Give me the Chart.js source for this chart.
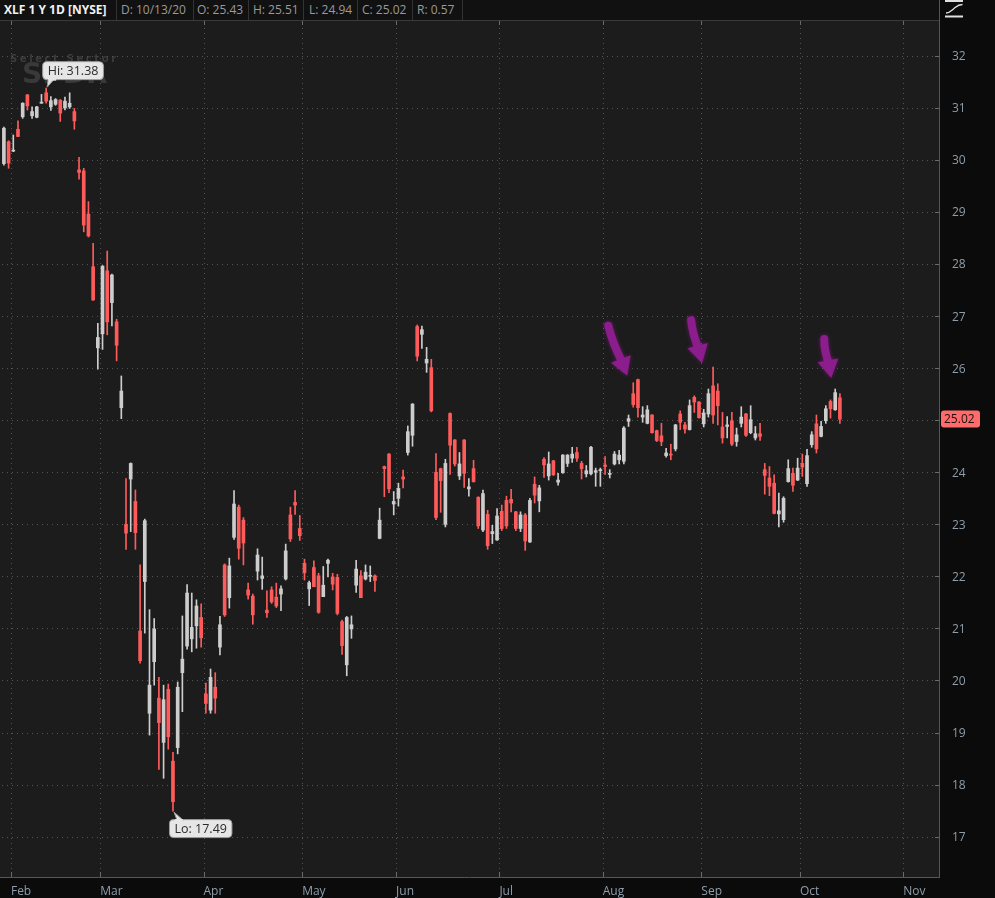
<!DOCTYPE html>
<html>
<head>
<meta charset="utf-8">
<script src="https://cdn.jsdelivr.net/npm/chart.js@4.4.0/dist/chart.umd.min.js"></script>
<style>
html,body{margin:0;padding:0;background:#0b0b0b;width:995px;height:898px;overflow:hidden;}
#wrap{position:relative;width:995px;height:898px;}
#c{position:absolute;left:0;top:0;}
#hdr{position:absolute;left:0;top:0;width:939px;height:20px;background:#111111;border-bottom:1px solid #3a3a3a;font-family:"Open Sans",sans-serif;font-size:12px;line-height:20px;color:#9a9a9a;}
#hdr span{position:absolute;top:0;white-space:nowrap;}
#hdr .t{color:#f2f2f2;font-weight:bold;font-size:12px;}
#hdr i{position:absolute;top:0;width:1px;height:20px;background:#333;}
#icon{position:absolute;left:944px;top:0;}
</style>
</head>
<body>
<div id="wrap">
<canvas id="c" width="995" height="898"></canvas>
<div id="hdr">
  <span class="t" style="left:4px">XLF 1 Y 1D [NYSE]</span>
  <i style="left:116px"></i><span id="hD" style="left:121px"></span>
  <i style="left:193px"></i><span id="hO" style="left:197px"></span>
  <i style="left:248px"></i><span id="hH" style="left:253px"></span>
  <i style="left:303px"></i><span id="hL" style="left:309px"></span>
  <i style="left:357px"></i><span id="hC" style="left:362px"></span>
  <i style="left:412px"></i><span id="hR" style="left:417px"></span>
  <i style="left:462px"></i>
</div>
<svg id="icon" width="22" height="19" viewBox="0 0 22 19">
  <rect x="1" y="0" width="18" height="2" fill="#e0e0e0"/>
  <path d="M2 13 C6 13 7 11 10 8.5 C13 6 14 4.5 18.5 4.5" stroke="#e0e0e0" stroke-width="1.3" fill="none"/>
  <rect x="1" y="15.5" width="18" height="2" fill="#e0e0e0"/>
</svg>
</div>
<script>
// ---- data (XLF daily, Jan 30 2020 .. Oct 13 2020) ----
const startIdx = -2;            // trading-day index of first candle (0 = Feb 3)
const lastDate = '10/13/20';
const monthStarts = [0, 19, 41, 62, 82, 104, 126, 147, 168, 190];
const monthLabels = ['Feb','Mar','Apr','May','Jun','Jul','Aug','Sep','Oct','Nov'];

const open = [
 29.93,30.35,30.17,30.59,30.83,31.25,30.85,30.82,31.09,31.29,31.02,31.07,
 31.15,31.00,31.02,30.93,29.81,29.79,28.96,27.95,26.39,26.66,
 27.87,27.26,26.89,25.24,23.00,23.87,23.44,20.95,21.90,19.37,
 20.36,19.66,18.81,19.83,18.45,18.71,20.15,20.66,20.80,21.05,
 21.21,19.74,19.43,19.87,20.64,22.22,21.59,22.75,23.33,23.08,
 21.74,21.62,22.10,21.96,21.35,21.74,21.60,21.66,21.95,23.18,
 23.42,22.92,22.25,21.76,22.17,22.01,21.61,22.25,21.99,21.98,
 21.13,20.30,20.99,21.83,22.01,21.95,22.00,22.01,22.73,24.11,
 24.35,23.39,23.50,23.91,24.38,24.71,26.80,26.65,26.10,26.01,
 24.00,24.07,23.00,25.13,24.62,23.93,24.62,23.68,24.07,23.52,
 22.89,23.19,22.82,22.70,23.25,23.46,23.48,23.24,22.92,23.18,
 22.66,23.77,23.45,24.25,23.93,24.22,23.81,23.99,24.17,24.27,
 24.38,24.17,23.97,23.97,24.00,24.03,24.14,23.96,24.16,24.24,
 24.21,24.98,25.51,25.78,25.06,24.94,25.10,24.80,24.70,24.32,
 24.34,24.45,25.12,24.91,24.82,25.44,25.35,24.93,25.12,25.66,
 25.56,24.87,24.88,24.99,24.59,24.94,25.12,24.76,24.66,24.74,
 24.05,23.89,23.79,23.20,23.09,23.82,23.98,23.85,24.17,23.78,
 24.53,24.93,24.69,24.99,25.36,25.20,25.43
];
const high = [
 30.63,30.37,30.48,30.75,31.10,31.26,31.02,31.03,31.26,31.38,31.22,31.18,
 31.16,31.21,31.29,30.99,30.05,29.84,29.20,28.40,26.86,27.97,
 28.25,27.81,26.94,25.85,23.88,24.18,23.66,22.22,23.10,21.36,
 21.19,20.06,19.91,19.93,18.62,19.97,21.24,21.84,21.68,21.55,
 21.47,19.95,20.22,20.15,21.23,22.24,22.35,23.65,23.37,23.13,
 21.87,21.66,22.53,22.37,21.72,21.80,21.87,21.82,22.62,23.33,
 23.65,23.17,22.33,21.91,22.30,22.06,22.19,22.33,22.06,22.04,
 21.16,21.23,21.24,22.31,22.11,22.22,22.20,22.03,23.31,24.12,
 24.36,23.63,23.79,24.04,24.89,25.32,26.83,26.81,26.40,26.17,
 24.36,24.08,24.25,25.14,24.63,24.38,24.63,23.88,24.23,23.53,
 23.66,23.27,22.98,23.30,23.37,23.54,23.67,23.25,23.24,23.21,
 23.50,23.91,23.75,24.28,24.39,24.23,23.98,24.34,24.34,24.48,
 24.48,24.21,24.13,24.50,24.08,24.08,24.30,24.05,24.40,24.42,
 24.88,25.10,25.72,25.79,25.26,25.28,25.11,24.81,24.94,24.46,
 24.54,24.92,25.18,24.96,25.39,25.47,25.36,25.21,25.60,26.02,
 25.70,25.15,25.07,25.15,24.85,25.26,25.13,25.28,24.88,24.94,
 24.17,24.11,23.95,23.60,23.53,24.24,24.08,24.27,24.35,24.44,
 24.78,25.10,24.98,25.28,25.39,25.60,25.51
];
const low = [
 29.90,29.84,30.16,30.45,30.80,30.96,30.80,30.81,31.09,31.09,30.95,31.05,
 30.74,30.96,30.99,30.59,29.63,28.62,28.52,27.30,25.98,26.36,
 26.64,26.81,26.14,25.03,22.52,22.86,22.52,20.33,20.91,18.95,
 19.91,18.29,18.12,18.68,17.49,18.59,19.40,20.60,20.55,20.62,
 20.64,19.37,19.37,19.37,20.49,21.23,21.39,22.71,22.33,22.22,
 21.56,21.08,21.93,21.75,21.21,21.48,21.40,21.34,21.93,22.67,
 23.19,22.69,21.93,21.44,21.80,21.29,21.61,21.99,21.74,21.26,
 20.50,20.09,20.81,21.69,21.59,21.93,21.90,21.71,22.72,23.53,
 23.61,23.18,23.35,23.70,24.33,24.50,26.14,26.38,25.92,25.16,
 23.09,23.23,22.95,23.96,24.12,23.86,23.71,23.54,23.81,22.92,
 22.86,22.52,22.63,22.69,22.88,22.92,23.24,22.88,22.86,22.50,
 22.65,23.41,23.24,23.90,23.85,23.94,23.75,23.98,24.11,24.19,
 24.21,23.87,23.91,23.95,23.73,23.73,23.96,23.89,24.14,24.16,
 24.16,24.88,25.25,25.06,24.96,24.93,24.75,24.59,24.51,24.29,
 24.24,24.41,24.82,24.75,24.81,25.15,25.04,24.87,25.06,24.94,
 24.91,24.56,24.66,24.51,24.50,24.87,24.69,24.74,24.62,24.61,
 23.58,23.55,23.20,22.95,23.04,23.81,23.63,23.84,23.92,23.73,
 24.48,24.37,24.68,24.94,25.04,25.19,24.94
];
const close = [
 30.61,29.94,30.19,30.45,31.09,31.04,30.93,31.02,31.11,31.13,31.14,31.16,
 30.90,31.13,31.09,30.75,29.76,28.75,28.54,27.31,26.59,27.96,
 26.89,27.79,26.44,25.56,22.83,24.17,22.84,20.38,23.07,19.91,
 20.99,19.19,19.63,18.92,17.67,19.87,20.41,21.68,21.02,21.43,
 20.82,19.56,20.06,19.66,21.07,21.26,22.20,23.39,22.54,22.64,
 21.64,21.26,22.41,22.01,21.30,21.51,21.43,21.76,22.49,22.72,
 23.37,22.78,22.07,21.88,21.80,21.31,21.83,22.31,21.85,21.29,
 20.67,21.21,21.07,22.14,21.59,22.08,22.02,21.92,23.08,24.07,
 23.68,23.44,23.69,23.87,24.78,25.31,26.23,26.74,26.17,25.18,
 23.13,23.84,24.17,24.52,24.16,24.16,23.98,23.72,23.82,22.97,
 23.59,22.59,22.86,23.16,22.92,22.97,23.41,22.92,23.18,22.68,
 23.46,23.56,23.70,24.14,24.16,23.95,23.85,24.33,24.33,24.35,
 24.27,24.07,24.03,24.48,24.03,24.05,24.11,23.98,24.35,24.33,
 24.85,25.03,25.30,25.24,25.10,25.20,24.76,24.61,24.59,24.37,
 24.33,24.91,24.96,24.83,25.28,25.35,25.05,25.14,25.51,25.10,
 25.28,24.66,24.91,24.54,24.72,25.06,24.71,25.01,24.74,24.69,
 23.94,23.73,23.21,23.26,23.50,24.07,23.75,24.08,24.10,24.32,
 24.72,24.45,24.88,25.22,25.22,25.53,25.02
];
// annotation arrows point at these candles (trading-day index)
const arrowAt = [132, 149, 175];

// ---- styles ----
const UP = '#cdcdcd', DOWN = '#ff5b5b';
const TICK_COLOR = '#8f9daa';
const arrowGeom = [ // tip and tail offsets (px) from each candle's high
  {tip:[-6,-7],  tail:[-25,-57]},
  {tip:[-11,-4], tail:[-22,-47]},
  {tip:[-4,-11], tail:[-11,-50]}
];

const xs = open.map((_, i) => startIdx + i);
const wickData = xs.map((x, i) => ({x, y: [low[i], high[i]]}));
const bodyData = xs.map((x, i) => ({x, y: [open[i], close[i]]}));
const colorOf = i => close[i] < open[i] ? DOWN : UP;
const last = close.length - 1;

document.getElementById('hD').textContent = 'D: ' + lastDate;
document.getElementById('hO').textContent = 'O: ' + open[last].toFixed(2);
document.getElementById('hH').textContent = 'H: ' + high[last].toFixed(2);
document.getElementById('hL').textContent = 'L: ' + low[last].toFixed(2);
document.getElementById('hC').textContent = 'C: ' + close[last].toFixed(2);
document.getElementById('hR').textContent = 'R: ' + (high[last] - low[last]).toFixed(2);

function roundRect(ctx, x, y, w, h, r) {
  ctx.beginPath();
  ctx.moveTo(x + r, y); ctx.lineTo(x + w - r, y); ctx.quadraticCurveTo(x + w, y, x + w, y + r);
  ctx.lineTo(x + w, y + h - r); ctx.quadraticCurveTo(x + w, y + h, x + w - r, y + h);
  ctx.lineTo(x + r, y + h); ctx.quadraticCurveTo(x, y + h, x, y + h - r);
  ctx.lineTo(x, y + r); ctx.quadraticCurveTo(x, y, x + r, y); ctx.closePath();
}

const bgPlugin = {
  id: 'bg',
  beforeDraw(chart) {
    const {ctx, chartArea: a, scales: {x, y}} = chart;
    ctx.save();
    ctx.fillStyle = '#0b0b0b';
    ctx.fillRect(0, 0, chart.width, chart.height);
    ctx.fillStyle = '#1c1c1c';
    ctx.fillRect(a.left, a.top, a.right - a.left, a.bottom - a.top);
    // watermark
    ctx.fillStyle = '#3c3c3c';
    ctx.font = 'bold 10px "DejaVu Sans", sans-serif';
    ctx.textBaseline = 'alphabetic';
    const wm = 'Select Sector';
    let wx = a.left + 10;
    for (const ch of wm) { ctx.fillText(ch, wx, a.top + 41); wx += ctx.measureText(ch).width + 2.6; }
    ctx.fillStyle = '#393939';
    ctx.font = 'bold 28px "DejaVu Sans", sans-serif';
    ctx.fillText('SPDR', a.left + 22, a.top + 62);
    // dotted grid
    ctx.strokeStyle = '#555555';
    ctx.lineWidth = 1;
    ctx.setLineDash([1, 4]);
    y.ticks.forEach(t => {
      const py = Math.round(y.getPixelForValue(t.value)) + 0.5;
      ctx.beginPath(); ctx.moveTo(a.left + 2, py); ctx.lineTo(a.right, py); ctx.stroke();
    });
    x.ticks.forEach(t => {
      const px = Math.round(x.getPixelForValue(t.value)) + 0.5;
      ctx.beginPath(); ctx.moveTo(px, a.top + 2); ctx.lineTo(px, a.bottom); ctx.stroke();
    });
    ctx.setLineDash([]);
    // axis lines and tick marks
    ctx.strokeStyle = '#565656';
    ctx.beginPath();
    ctx.moveTo(a.right + 0.5, 0); ctx.lineTo(a.right + 0.5, a.bottom + 1);
    ctx.moveTo(a.left, a.bottom + 0.5); ctx.lineTo(a.right, a.bottom + 0.5);
    ctx.stroke();
    ctx.strokeStyle = '#6a6a6a';
    ctx.beginPath();
    y.ticks.forEach(t => {
      const py = Math.round(y.getPixelForValue(t.value)) + 0.5;
      ctx.moveTo(a.right - 4, py); ctx.lineTo(a.right, py);
    });
    x.ticks.forEach(t => {
      const px = Math.round(x.getPixelForValue(t.value)) + 0.5;
      ctx.moveTo(px, a.bottom - 5); ctx.lineTo(px, a.bottom);
      ctx.moveTo(px, a.top); ctx.lineTo(px, a.top + 4);
    });
    ctx.stroke();
    ctx.restore();
  }
};

const overlayPlugin = {
  id: 'overlay',
  afterDatasetsDraw(chart) {
    const {ctx, chartArea: a, scales: {x, y}} = chart;
    ctx.save();
    // arrows
    arrowAt.forEach((idx, k) => {
      const i = idx - startIdx;
      const cx = x.getPixelForValue(idx), cy = y.getPixelForValue(high[i]);
      const g = arrowGeom[k];
      const hx = cx + g.tip[0], hy = cy + g.tip[1];
      const tx = cx + g.tail[0], ty = cy + g.tail[1];
      const ang = Math.atan2(hy - ty, hx - tx);
      const headLen = 18, headW = 10.5;
      const bx = hx - headLen * Math.cos(ang), by = hy - headLen * Math.sin(ang);
      ctx.shadowColor = 'rgba(150,30,150,0.55)';
      ctx.shadowBlur = 4;
      ctx.strokeStyle = '#8c1d8c';
      ctx.fillStyle = '#8c1d8c';
      ctx.lineWidth = 8;
      ctx.lineCap = 'round';
      const mx = (tx + bx) / 2 - 2 * Math.sin(ang), my = (ty + by) / 2 + 2 * Math.cos(ang);
      ctx.beginPath(); ctx.moveTo(tx, ty); ctx.quadraticCurveTo(mx, my, bx + 2 * Math.cos(ang), by + 2 * Math.sin(ang)); ctx.stroke();
      ctx.beginPath();
      ctx.moveTo(hx, hy);
      ctx.lineTo(bx + headW * Math.sin(ang), by - headW * Math.cos(ang));
      ctx.lineTo(bx - headW * Math.sin(ang), by + headW * Math.cos(ang));
      ctx.closePath(); ctx.fill();
    });
    ctx.shadowBlur = 0; ctx.shadowColor = 'transparent';
    // Hi / Lo callouts
    let hiI = 0, loI = 0;
    high.forEach((v, i) => { if (v > high[hiI]) hiI = i; });
    low.forEach((v, i) => { if (v < low[loI]) loI = i; });
    ctx.font = '12.5px "Open Sans", sans-serif';
    ctx.textBaseline = 'middle';
    ctx.textAlign = 'left';
    const callout = (txt, px, py, above) => {
      const w = ctx.measureText(txt).width + 10, h = 18;
      const bx = px - 4, by = above ? py - 27 : py + 8;
      ctx.fillStyle = '#e6e6e6';
      ctx.strokeStyle = '#9a9a9a';
      ctx.lineWidth = 1;
      roundRect(ctx, bx + 0.5, by + 0.5, w, h, 4);
      ctx.fill(); ctx.stroke();
      ctx.beginPath();
      if (above) { ctx.moveTo(bx + 6, by + h); ctx.lineTo(px + 1, py - 1); ctx.lineTo(bx + 12, by + h); }
      else { ctx.moveTo(bx + 8, by + 1); ctx.lineTo(px + 1, py + 1); ctx.lineTo(bx + 14, by + 1); }
      ctx.fillStyle = '#e6e6e6'; ctx.fill();
      ctx.strokeStyle = '#9a9a9a'; ctx.stroke();
      ctx.fillStyle = '#e6e6e6';
      ctx.fillRect(bx + 6, above ? by + h - 1 : by, 8, 2.5);
      ctx.fillStyle = '#2a2a2a';
      ctx.fillText(txt, bx + 5.5, by + h / 2 + 1);
    };
    callout('Hi: ' + high[hiI].toFixed(2), x.getPixelForValue(startIdx + hiI), y.getPixelForValue(high[hiI]), true);
    callout('Lo: ' + low[loI].toFixed(2), x.getPixelForValue(startIdx + loI), y.getPixelForValue(low[loI]), false);
    ctx.restore();
  },
  afterDraw(chart) {
    const {ctx, chartArea: a, scales: {y}} = chart;
    ctx.save();
    const py = y.getPixelForValue(close[last]);
    ctx.fillStyle = '#ff6a6a';
    roundRect(ctx, a.right + 2, Math.round(py) - 8.5, 39, 17, 3);
    ctx.fill();
    ctx.fillStyle = '#1e1010';
    ctx.font = '12px "Open Sans", sans-serif';
    ctx.textBaseline = 'middle';
    ctx.textAlign = 'left';
    ctx.fillText(close[last].toFixed(2), a.right + 5, Math.round(py) + 0.5);
    ctx.restore();
  }
};

new Chart(document.getElementById('c'), {
  type: 'bar',
  data: {
    datasets: [
      {data: wickData, barThickness: 1, grouped: false, borderWidth: 0,
       backgroundColor: ctx => colorOf(ctx.dataIndex), minBarLength: 1},
      {data: bodyData, barThickness: 3, grouped: false, borderWidth: 0,
       backgroundColor: ctx => colorOf(ctx.dataIndex), minBarLength: 1}
    ]
  },
  options: {
    responsive: false,
    animation: false,
    events: [],
    layout: {padding: {top: 21, left: 0, right: 0, bottom: 0}},
    plugins: {legend: {display: false}, tooltip: {enabled: false}},
    scales: {
      x: {
        type: 'linear',
        offset: false,
        min: -2.83, max: 197.1,
        grid: {display: false},
        border: {display: false},
        afterBuildTicks: s => { s.ticks = monthStarts.map(v => ({value: v - 0.5})); },
        afterFit: s => { s.height = 21; },
        ticks: {
          autoSkip: false, maxRotation: 0, align: 'start', padding: -1,
          color: TICK_COLOR, font: {family: 'Open Sans', size: 12},
          callback: (v, i) => monthLabels[i]
        }
      },
      y: {
        type: 'linear',
        position: 'right',
        min: 16.224, max: 32.67,
        grid: {display: false},
        border: {display: false},
        afterFit: s => { s.width = 56; },
        ticks: {
          stepSize: 1, includeBounds: false, padding: 5, labelOffset: 1,
          color: TICK_COLOR, font: {family: 'Open Sans', size: 12},
          callback: v => String(v)
        }
      }
    }
  },
  plugins: [bgPlugin, overlayPlugin]
});
</script>
</body>
</html>
